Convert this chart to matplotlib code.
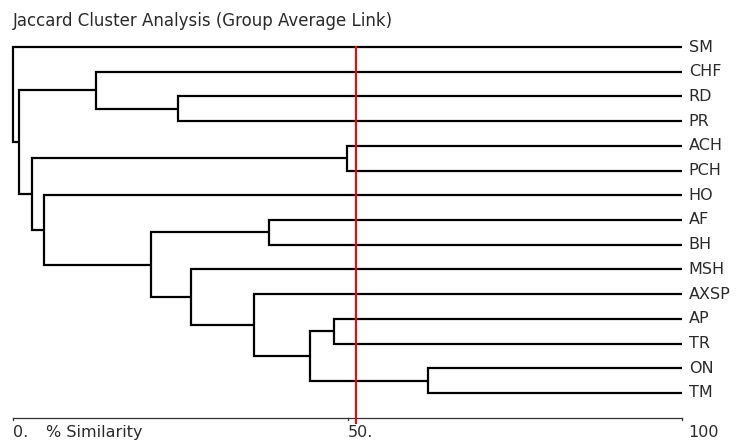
import numpy as np
import matplotlib
matplotlib.use('Agg')
import matplotlib.pyplot as plt

leaves = ['SM', 'CHF', 'RD', 'PR', 'ACH', 'PCH', 'HO', 'AF', 'BH',
          'MSH', 'AXSP', 'AP', 'TR', 'ON', 'TM']

# merges: (child a, child b, % similarity) -- new node ids start at len(leaves)
merge_a = [2, 1, 4, 7, 11, 13, 19, 10, 9, 18, 6, 17, 16, 0]
merge_b = [3, 15, 5, 8, 12, 14, 20, 21, 22, 23, 24, 25, 26, 27]
merge_sim = [24.7, 12.4, 49.9, 38.3, 48.0, 62.0, 44.4, 36.0, 26.6, 20.6, 4.7, 2.8, 0.95, 0.0]

threshold = 51.2
tick_vals = [0, 50, 100]
tick_labels = ['0.', '50.', '100']

plt.rcParams['font.family'] = ['DejaVu Sans']

W, H = 739, 443
fig = plt.figure(figsize=(W / 100, H / 100), dpi=100)
fig.patch.set_facecolor('white')

# axes mapped so that x 0..100 -> px 13..682, leaf 0..14 -> px 47..393
x0, x1 = 13, 682
y0, y1 = 47, 393
ax = fig.add_axes([x0 / W, 1 - y1 / H, (x1 - x0) / W, (y1 - y0) / H])
ax.set_xlim(0, 100)
ax.set_ylim(len(leaves) - 1, 0)
ax.axis('off')

n = len(leaves)
ypos = {i: float(i) for i in range(n)}
xpos = {i: 100.0 for i in range(n)}

tc = '#2a2a2a'

for k in range(n):
    ax.text(101, k, leaves[k], va='center', ha='left', fontsize=11.5, color=tc)

for j in range(len(merge_a)):
    a, b, s = merge_a[j], merge_b[j], merge_sim[j]
    node = n + j
    ax.plot([xpos[a], s, s, xpos[b]], [ypos[a], ypos[a], ypos[b], ypos[b]],
            color='black', lw=1.6, solid_capstyle='butt', solid_joinstyle='miter',
            clip_on=False)
    ypos[node] = (ypos[a] + ypos[b]) / 2
    xpos[node] = s

# similarity axis
axis_y = 15.0
ax.plot([0, 100], [axis_y, axis_y], color='#333333', lw=0.9, clip_on=False)
for v, lab in zip(tick_vals, tick_labels):
    ax.plot([v, v], [axis_y, axis_y + 0.1], color='#333333', lw=0.9, clip_on=False)
    ax.text(v if v < 100 else 101, axis_y + 0.8, lab, ha='left', va='baseline',
            fontsize=11.5, color=tc)
ax.text(5, axis_y + 0.8, '% Similarity', ha='left', va='baseline', fontsize=11.5,
        color=tc)

# cut-off line
ax.plot([threshold, threshold], [0, axis_y + 0.2], color='red', lw=1.5, clip_on=False)

ax.text(0, -1.05, 'Jaccard Cluster Analysis (Group Average Link)', ha='left',
        va='center', fontsize=12, color=tc)

fig.savefig('out.png', dpi=100, facecolor='white')
